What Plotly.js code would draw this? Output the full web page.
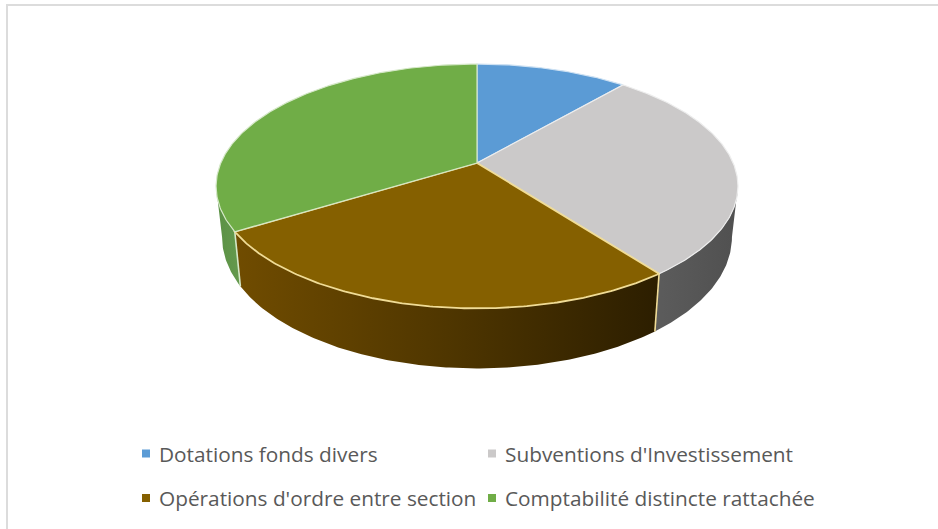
<!DOCTYPE html>
<html><head><meta charset="utf-8">
<script src="https://cdn.plot.ly/plotly-3.0.1.min.js"></script>
<style>html,body{margin:0;padding:0;background:#fff}</style></head>
<body><div id="chart" style="width:938px;height:529px"></div>
<script>
const categories = ["Dotations fonds divers","Subventions d'Investissement","Opérations d'ordre entre section","Comptabilité distincte rattachée"];
const values = [11.3, 28.4, 26.5, 33.8];
const topColors = ["#5B9BD5","#CBC9C9","#856000","#70AD47"];
const edgeColors = ["#CFE2F3","#EDEDED","#F0DC96","#D5E8C8"];
const wallScales = [
  [[0,"#4a7fb0"],[1,"#4a7fb0"]],
  [[0,"#5C5C5C"],[1,"#505050"]],
  [[0,"#704C00"],[0.5,"#4F3600"],[1,"#2C1E00"]],
  [[0,"#5A9044"],[1,"#659A4E"]]
];

// Projection of the tilted disc (pixel space of the 938x529 picture)
const cx=477, cy=163, a=86.8, b=256.2, p=0.19, depth=60, shrink=0.977;
function proj(t, low){
  const c=Math.cos(t), w=1+p*c;
  const x=b*Math.sin(t)/w, y=(cy-a*c)/w;
  if(!low) return [cx+x,y];
  return [cx+x*shrink, y+depth*(0.62+0.38*(1-c)/2)];
}
function arc(t0,t1,low){
  const n=Math.max(2,Math.ceil(Math.abs(t1-t0)/0.01)), pts=[];
  for(let i=0;i<=n;i++) pts.push(proj(t0+(t1-t0)*i/n,low));
  return pts;
}
const total=values.reduce((s,v)=>s+v,0);
const tr=Math.acos(-p), tl=2*Math.PI-tr;
let acc=0; const walls=[], tops=[], seams=[];
values.forEach((v,i)=>{
  const t0=acc/total*2*Math.PI; acc+=v; const t1=acc/total*2*Math.PI;
  const s=Math.max(t0,tr), e=Math.min(t1,tl);
  if(e>s){
    const up=arc(s,e,false), lo=arc(s,e,true).reverse(), pts=up.concat(lo,[up[0]]);
    const xs=pts.map(q=>q[0]);
    walls.push({type:'scatter',mode:'lines',x:xs,y:pts.map(q=>q[1]),fill:'toself',
      fillgradient:{type:'horizontal',colorscale:wallScales[i],start:Math.min(...xs),stop:Math.max(...xs)},
      line:{width:0,color:'rgba(0,0,0,0)'},hoverinfo:'skip',showlegend:false});
    if(t1<tl){const q=[proj(t1,false),proj(t1,true)];
      seams.push({type:'scatter',mode:'lines',x:q.map(z=>z[0]),y:q.map(z=>z[1]),line:{width:1.6,color:edgeColors[i+1]},hoverinfo:'skip',showlegend:false});}
  }
  const pts=[[cx,cy]].concat(arc(t0,t1,false),[[cx,cy]]);
  tops.push({type:'scatter',mode:'lines',x:pts.map(q=>q[0]),y:pts.map(q=>q[1]),fill:'toself',fillcolor:topColors[i],
    line:{width:i==2?1.8:1.2,color:edgeColors[i]},name:categories[i],text:categories[i],hoverinfo:'text',showlegend:false});
});

const keyX=[146,492,146,492], keyY=[453.5,453.5,498,498], textX=[158,504,158,504];
const frame={color:'#DCDCDC',width:2};
const shapes=[
  {type:'line',xref:'x',yref:'y',x0:6,y0:5,x1:938,y1:5,line:frame,layer:'below'},
  {type:'line',xref:'x',yref:'y',x0:7,y0:4,x1:7,y1:529,line:frame,layer:'below'}
].concat(categories.map((c,i)=>({type:'rect',xref:'x',yref:'y',x0:keyX[i]-4,x1:keyX[i]+4,y0:keyY[i]-4,y1:keyY[i]+4,fillcolor:topColors[i],line:{width:0}})));
const annotations=categories.map((c,i)=>({xref:'x',yref:'y',x:textX[i],y:keyY[i],text:c,showarrow:false,xanchor:'left',yanchor:'middle',
  font:{family:'"Open Sans",sans-serif',size:20.8,color:'#595959'},borderpad:0}));

Plotly.newPlot('chart',walls.concat(seams,tops),{
  width:938,height:529,margin:{l:0,r:0,t:0,b:0},paper_bgcolor:'#fff',plot_bgcolor:'#fff',
  xaxis:{range:[0,938],visible:false,fixedrange:true},
  yaxis:{range:[529,0],visible:false,fixedrange:true},
  shapes,annotations,showlegend:false
},{displayModeBar:false,staticPlot:true});
</script></body></html>
